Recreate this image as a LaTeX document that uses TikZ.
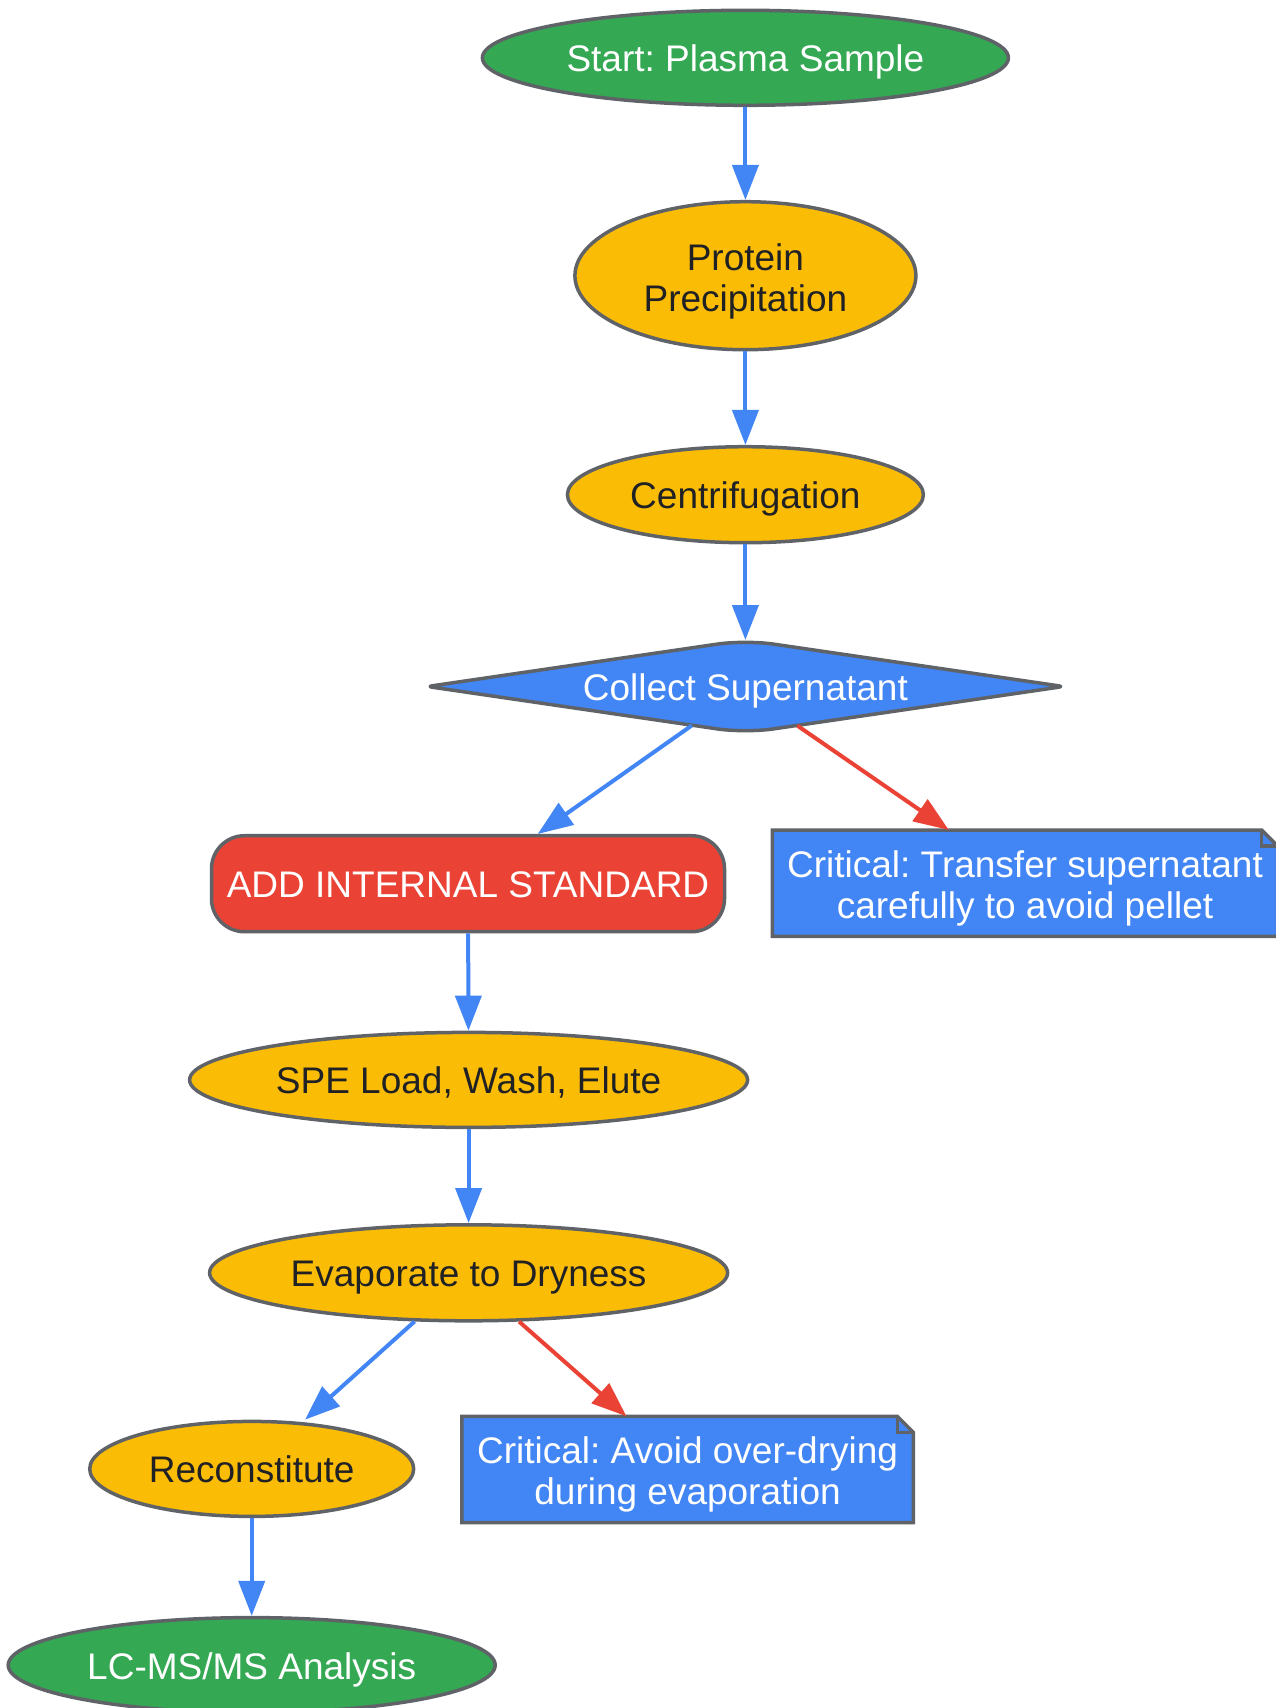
\documentclass[tikz,border=0pt]{standalone}
\usepackage{fontspec}
\setmainfont{Liberation Sans}
\usetikzlibrary{shapes.geometric,arrows.meta,backgrounds,calc}
\definecolor{gGreen}{HTML}{34A853}
\definecolor{gYellow}{HTML}{FBBC05}
\definecolor{gBlue}{HTML}{4285F4}
\definecolor{gRed}{HTML}{EA4335}
\definecolor{gGray}{HTML}{5F6368}
\definecolor{gText}{HTML}{202124}
\newsavebox\twolinebox
\newcommand\twolines[3]{\sbox\twolinebox{\begin{tabular}{@{}c@{}}#2\\#3\end{tabular}}\raisebox{#1}[\ht\twolinebox][\dp\twolinebox]{\usebox\twolinebox}}
\begin{document}
\begin{tikzpicture}[
  txt/.style={inner sep=0pt, font=\fontsize{37}{41.5}\selectfont\frenchspacing,
    execute at begin node={\rule{0pt}{37pt}}, execute at end node={\rule[-9pt]{0pt}{0pt}}},
  base/.style={txt, draw=gGray, line width=3.5pt},
  term/.style={base, ellipse, fill=gGreen, text=white},
  proc/.style={base, ellipse, fill=gYellow, text=gText},
  decis/.style={txt, diamond, text=white, aspect=7},
  keystep/.style={base, rectangle, rounded corners=33pt, fill=gRed, text=white},
  notebox/.style={txt, rectangle, text=white},
  shapeline/.style={draw=gGray, fill=gBlue, line width=3.5pt, line join=round},
  flow/.style={draw=gBlue, line width=4pt, -{Triangle[length=35pt,width=26pt]}},
  warn/.style={flow, draw=gRed}
]
\useasboundingbox (0pt,0pt) rectangle (1275pt,-1708pt);

\node[term, minimum width=526pt, minimum height=95pt] (start) at (745.4pt,-57.8pt) {Start: Plasma Sample};
\node[proc, minimum width=341pt, minimum height=148pt] (prot) at (745.4pt,-275.7pt) {\twolines{-7pt}{Protein}{Precipitation}};
\node[proc, minimum width=356pt, minimum height=96pt] (cent) at (745.4pt,-494.7pt) {Centrifugation};
\node[decis, minimum width=636pt, minimum height=93pt] (coll) at (745.4pt,-686.5pt) {Collect Supernatant};
\node[keystep, minimum width=513pt, minimum height=96pt] (addis) at (468pt,-883.7pt) {ADD INTERNAL STANDARD};
\node[notebox, minimum width=505pt, minimum height=106pt] (n1) at (1025pt,-883.2pt) {\twolines{-6.5pt}{Critical: Transfer supernatant}{carefully to avoid pellet}};
\node[proc, minimum width=558pt, minimum height=95pt] (spe) at (468.6pt,-1079.9pt) {SPE Load, Wash, Elute};
\node[proc, minimum width=518pt, minimum height=96pt] (evap) at (468.6pt,-1272.8pt) {Evaporate to Dryness};
\node[proc, minimum width=324pt, minimum height=95pt] (recon) at (251.7pt,-1468.9pt) {Reconstitute};
\node[notebox, minimum width=451pt, minimum height=106pt] (n2) at (687.6pt,-1469.5pt) {\twolines{-6pt}{Critical: Avoid over-drying}{during evaporation}};
\node[term, minimum width=487pt, minimum height=95pt] (lcms) at (251.7pt,-1665.1pt) {LC-MS/MS Analysis};

\coordinate (cw) at ([xshift=-318pt]coll.center);
\coordinate (ce) at ([xshift=318pt]coll.center);
\coordinate (cn) at ([yshift=46.5pt]coll.center);
\coordinate (cs) at ([yshift=-46.5pt]coll.center);
\coordinate (cm) at ($(cw)!0.5!(cn)$);

\begin{scope}[on background layer]
  \path[shapeline] (cm)
    [rounded corners=28pt] -- (cn)
    [rounded corners=5pt] -- (ce)
    [rounded corners=28pt] -- (cs)
    [rounded corners=5pt] -- (cw)
    -- cycle;
  \foreach \n in {n1,n2} {
    \filldraw[shapeline, line join=miter] (\n.north west) -- ([xshift=-16pt]\n.north east) -- ([yshift=-16pt]\n.north east) -- (\n.south east) -- (\n.south west) -- cycle;
    \draw[shapeline, line join=miter, fill=none] ([xshift=-16pt]\n.north east) |- ([yshift=-16pt]\n.north east);
  }
\end{scope}

\draw[flow] (start) -- (prot);
\draw[flow] (prot) -- (cent);
\draw[flow] (cent) -- (cn);
\draw[flow] (coll.216.9) -- ([xshift=328pt]addis.north west);
\draw[warn] (coll.323.6) -- ([xshift=176.5pt]n1.north west);
\draw[flow] (addis) -- (spe);
\draw[flow] (spe) -- (evap);
\draw[flow] (evap.222.5) -- ([xshift=53.4pt]recon.north);
\draw[warn] (evap.316.3) -- ([xshift=164.6pt]n2.north west);
\draw[flow] (recon) -- (lcms);
\end{tikzpicture}
\end{document}
